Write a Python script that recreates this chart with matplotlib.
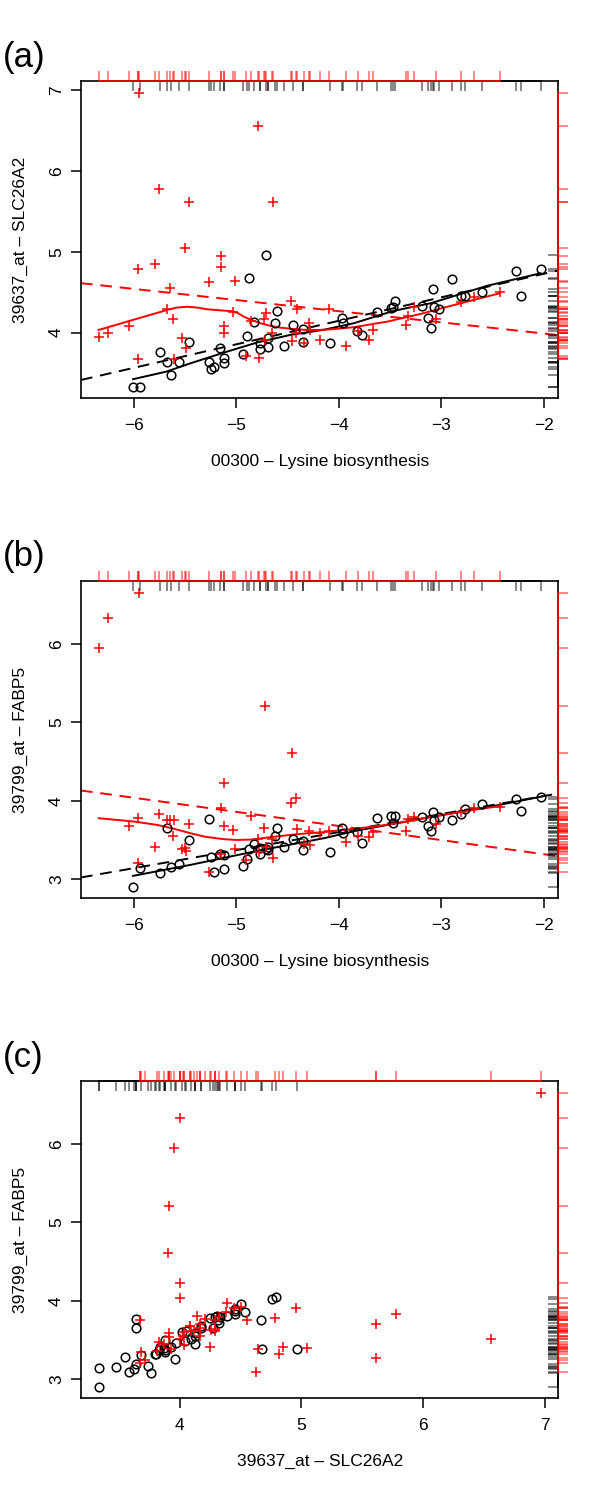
import numpy as np
import matplotlib.pyplot as plt
import matplotlib.transforms as mtransforms

plt.rcParams['font.family'] = ['Liberation Sans', 'DejaVu Sans']

# group 1 (black circles): pathway score, SLC26A2, FABP5
blk_path = [-6.006, -5.94, -5.74, -5.674, -5.632, -5.554, -5.46, -5.261, -5.245, -5.213,
            -5.154, -5.12, -5.115, -4.933, -4.894, -4.878, -4.829, -4.767, -4.767, -4.705,
            -4.69, -4.69, -4.6, -4.617, -4.537, -4.449, -4.347, -4.347, -4.088, -3.967,
            -3.96, -3.82, -3.772, -3.625, -3.49, -3.47, -3.447, -3.193, -3.128, -3.105,
            -3.079, -3.075, -3.018, -2.894, -2.813, -2.774, -2.608, -2.276, -2.227, -2.032]
blk_slc = [3.333, 3.333, 3.765, 3.64, 3.477, 3.64, 3.88, 3.64, 3.55, 3.58,
           3.807, 3.62, 3.68, 3.737, 3.963, 4.672, 4.128, 3.869, 3.795, 4.964,
           3.93, 3.827, 4.272, 4.124, 3.84, 4.095, 4.042, 3.88, 3.876, 4.178,
           4.124, 4.02, 3.972, 4.252, 4.31, 4.32, 4.392, 4.33, 4.178, 4.054,
           4.54, 4.314, 4.289, 4.668, 4.454, 4.457, 4.507, 4.759, 4.45, 4.787]
blk_fabp = [2.906, 3.144, 3.085, 3.657, 3.153, 3.195, 3.497, 3.772, 3.28, 3.093,
            3.32, 3.127, 3.31, 3.17, 3.262, 3.382, 3.446, 3.395, 3.318, 3.39,
            3.41, 3.37, 3.657, 3.55, 3.415, 3.51, 3.49, 3.373, 3.35, 3.65,
            3.586, 3.606, 3.459, 3.777, 3.806, 3.72, 3.806, 3.79, 3.68, 3.615,
            3.86, 3.755, 3.797, 3.755, 3.83, 3.89, 3.96, 4.027, 3.87, 4.052]

# group 2 (red crosses)
red_path = [-6.341, -6.254, -6.042, -5.951, -5.957, -5.957, -5.795, -5.749, -5.674, -5.649,
            -5.62, -5.603, -5.528, -5.502, -5.486, -5.463, -5.268, -5.148, -5.148, -5.122,
            -5.115, -5.03, -5.015, -4.903, -4.852, -4.786, -4.774, -4.732, -4.715, -4.705,
            -4.65, -4.64, -4.461, -4.455, -4.41, -4.341, -4.293, -4.276, -4.185, -4.094,
            -3.93, -3.815, -3.707, -3.668, -3.349, -3.327, -3.268, -3.05, -2.813, -2.683,
            -2.429, -4.415]
red_slc = [3.951, 4.0, 4.083, 6.967, 4.784, 3.671, 4.849, 5.78, 4.289, 4.556,
           4.166, 3.671, 3.931, 5.043, 3.815, 5.612, 4.627, 4.952, 4.816, 4.083,
           4.0, 4.26, 4.643, 3.712, 4.145, 6.559, 3.683, 4.169, 3.91, 4.247,
           4.0, 5.612, 4.388, 3.901, 4.293, 3.869, 4.116, 4.033, 3.91, 4.289,
           3.83, 4.025, 3.91, 4.033, 4.095, 4.206, 4.32, 4.166, 4.384, 4.445,
           4.507, 4.0]
red_fabp = [5.95, 6.325, 3.679, 6.651, 3.785, 3.211, 3.415, 3.832, 3.755, 3.755,
            3.552, 3.755, 3.382, 3.40, 3.36, 3.704, 3.097, 3.904, 3.318, 3.679,
            4.223, 3.628, 3.382, 3.246, 3.806, 3.51, 3.35, 3.65, 5.212, 3.415,
            3.51, 3.268, 3.968, 4.605, 3.64, 3.45, 3.615, 3.44, 3.594, 3.615,
            3.471, 3.552, 3.535, 3.606, 3.615, 3.768, 3.797, 3.704, 3.861, 3.904,
            3.917, 4.032]

# straight fits (intercept, slope) as seen in the figure
blk_fit_a = (5.31, 0.291)
red_fit_a = (3.713, -0.138)
blk_fit_b = (4.52, 0.23)
red_fit_b = (2.958, -0.18)

# smoothed curves
blk_smooth_a_x = [-6.006, -5.68, -5.447, -5.12, -4.79, -4.471, -4.146, -3.854, -3.463, -3.105, -2.552, -2.032]
blk_smooth_a_y = [3.424, 3.518, 3.62, 3.753, 3.88, 3.972, 4.035, 4.116, 4.27, 4.363, 4.58, 4.734]
red_smooth_a_x = [-6.341, -6.0, -5.674, -5.58, -5.479, -5.38, -5.284, -5.15, -5.04, -4.98,
                  -4.927, -4.85, -4.764, -4.67, -4.569, -4.45, -4.341, -4.2, -4.081,
                  -3.854, -3.528, -3.203, -2.813, -2.429]
red_smooth_a_y = [4.033, 4.16, 4.28, 4.31, 4.32, 4.31, 4.289, 4.275, 4.265, 4.24,
                  4.198, 4.155, 4.116, 4.085, 4.062, 4.045, 4.035, 4.033, 4.04,
                  4.067, 4.136, 4.231, 4.363, 4.487]
blk_smooth_b_x = [-6.006, -5.447, -4.796, -4.146, -3.82, -3.171, -2.52, -2.025]
blk_smooth_b_y = [3.042, 3.182, 3.36, 3.522, 3.62, 3.777, 3.925, 4.052]
red_smooth_b_x = [-6.341, -6.0, -5.772, -5.6, -5.447, -5.3, -5.122, -5.0, -4.85, -4.7,
                  -4.5, -4.3, -4.146, -3.951, -3.658, -3.4, -3.171, -2.8, -2.42]
red_smooth_b_y = [3.777, 3.735, 3.692, 3.64, 3.586, 3.54, 3.51, 3.5, 3.505, 3.53,
                  3.56, 3.586, 3.6, 3.628, 3.67, 3.72, 3.777, 3.86, 3.934]

RED = '#FF0000'
TICK_PX = 10.0


def r_lim(vals):
    lo, hi = min(vals), max(vals)
    d = (hi - lo) * 0.04
    return lo - d, hi + d


def rug(ax, vals, side, color, outward, alpha):
    bbox = ax.get_window_extent()
    if side == 'top':
        L = TICK_PX / bbox.height
        trans = mtransforms.blended_transform_factory(ax.transData, ax.transAxes)
        a, b = (1.0, 1.0 + L) if outward else (1.0 - L, 1.0)
        ax.vlines(vals, a, b, transform=trans, colors=color, alpha=alpha, lw=1.2, clip_on=False, zorder=4)
        ax.plot([min(vals), max(vals)], [1, 1], transform=trans, color=color, lw=1.2, clip_on=False, zorder=5)
    else:
        L = TICK_PX / bbox.width
        trans = mtransforms.blended_transform_factory(ax.transAxes, ax.transData)
        a, b = (1.0, 1.0 + L) if outward else (1.0 - L, 1.0)
        ax.hlines(vals, a, b, transform=trans, colors=color, alpha=alpha, lw=1.2, clip_on=False, zorder=4)
        ax.plot([1, 1], [min(vals), max(vals)], transform=trans, color=color, lw=1.2, clip_on=False, zorder=5)


def panel(ax, xb, yb, xr, yr, xticks, yticks, xlabel, ylabel, fits=None, smooths=None):
    ax.set_xlim(r_lim(list(xb) + list(xr)))
    ax.set_ylim(r_lim(list(yb) + list(yr)))
    ax.plot(xb, yb, 'o', mfc='none', mec='black', ms=6.2, mew=1.1, zorder=3)
    ax.plot(xr, yr, '+', color=RED, ms=6.5, mew=1.1, zorder=3)
    if fits:
        xx = np.array(ax.get_xlim())
        for (a, b), c in zip(fits, ['black', RED]):
            ax.plot(xx, a + b * xx, color=c, lw=1.4, dashes=(6, 4), zorder=2)
        ax.set_xlim(xx)
    if smooths:
        for (sx, sy), c in zip(smooths, ['black', RED]):
            ax.plot(sx, sy, color=c, lw=1.4, zorder=2, solid_joinstyle='round')
    ax.set_xticks(xticks)
    ax.set_yticks(yticks)
    ax.set_xticklabels([f'{t:g}'.replace('-', '\u2212') for t in xticks])
    ax.set_yticklabels([f'{t:g}' for t in yticks], rotation=90, va='center')
    ax.tick_params(direction='out', length=7.2, width=1.1, labelsize=12.5, pad=7)
    ax.tick_params(axis='y', pad=5)
    for s in ax.spines.values():
        s.set_linewidth(1.2)
    ax.set_xlabel(xlabel, fontsize=12.5, labelpad=15)
    ax.set_ylabel(ylabel, fontsize=12.5, labelpad=15)
    rug(ax, xb, 'top', 'black', False, 0.55)
    rug(ax, xr, 'top', RED, True, 0.55)
    rug(ax, yb, 'right', 'black', False, 0.55)
    rug(ax, yr, 'right', RED, True, 0.55)


fig = plt.figure(figsize=(6, 15), dpi=100)
left, width = 81 / 600, (558.3 - 81) / 600
tops = [81, 581, 1081]
h = 317.3
axes = [fig.add_axes([left, 1 - (t + h) / 1500, width, h / 1500]) for t in tops]

panel(axes[0], blk_path, blk_slc, red_path, red_slc, [-6, -5, -4, -3, -2], [4, 5, 6, 7],
      '00300 \u2013 Lysine biosynthesis', '39637_at \u2013 SLC26A2',
      fits=[blk_fit_a, red_fit_a],
      smooths=[(blk_smooth_a_x, blk_smooth_a_y), (red_smooth_a_x, red_smooth_a_y)])
panel(axes[1], blk_path, blk_fabp, red_path, red_fabp, [-6, -5, -4, -3, -2], [3, 4, 5, 6],
      '00300 \u2013 Lysine biosynthesis', '39799_at \u2013 FABP5',
      fits=[blk_fit_b, red_fit_b],
      smooths=[(blk_smooth_b_x, blk_smooth_b_y), (red_smooth_b_x, red_smooth_b_y)])
panel(axes[2], blk_slc, blk_fabp, red_slc, red_fabp, [4, 5, 6, 7], [3, 4, 5, 6],
      '39637_at \u2013 SLC26A2', '39799_at \u2013 FABP5')

for lab, t in zip(['(a)', '(b)', '(c)'], tops):
    fig.text(0.004, 1 - (t - 24) / 1500, lab, fontsize=25, va='center', ha='left')

fig.savefig('out.png', dpi=100)
